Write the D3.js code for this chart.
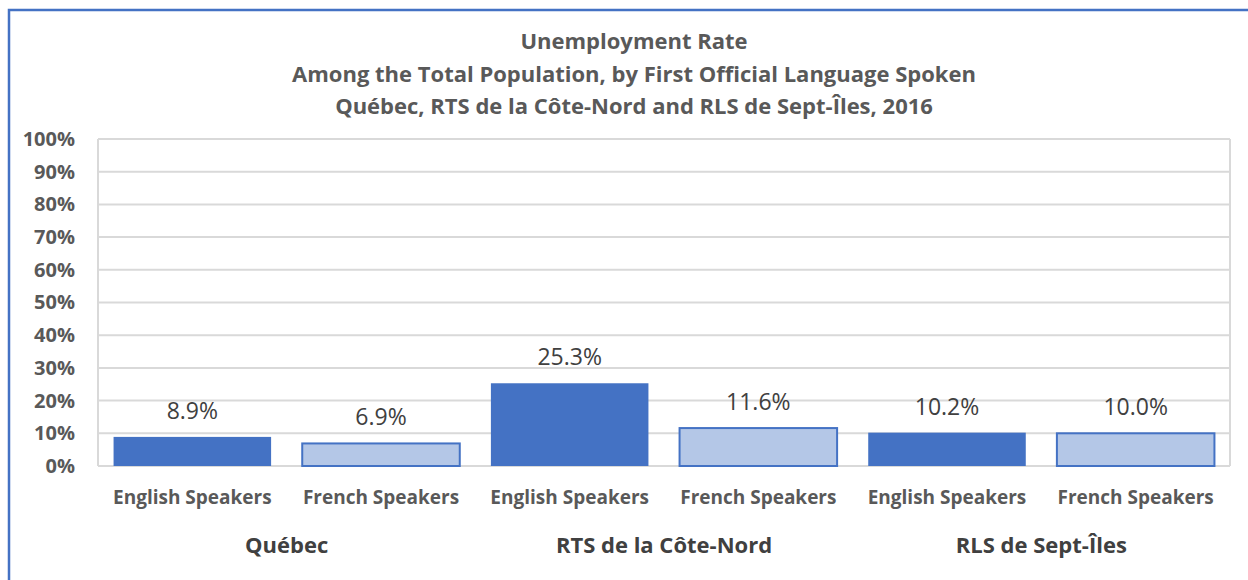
<!DOCTYPE html>
<html>
<head>
<meta charset="utf-8">
<script src="https://cdn.jsdelivr.net/npm/d3@7"></script>
<style>
  body { margin: 0; background: #fff; }
  svg { display: block; font-family: "Open Sans", sans-serif; }
</style>
</head>
<body>
<svg id="chart"></svg>
<script>
// Data
const regions = ["Québec", "RTS de la Côte-Nord", "RLS de Sept-Îles"];
const speakers = ["English Speakers", "French Speakers"];
const englishRates = [8.9, 25.3, 10.2];
const frenchRates = [6.9, 11.6, 10.0];
const yTicks = [0, 10, 20, 30, 40, 50, 60, 70, 80, 90, 100];
const titleLines = [
    "Unemployment Rate",
    "Among the Total Population, by First Official Language Spoken",
    "Québec, RTS de la Côte-Nord and RLS de Sept-Îles, 2016"
];

const width = 1248, height = 580;
const margin = { top: 139, right: 18, bottom: 114, left: 98 };

// flatten into bars
const bars = [];
regions.forEach((r, i) => {
    bars.push({ region: r, lang: speakers[0], value: englishRates[i], key: r + "|" + speakers[0] });
    bars.push({ region: r, lang: speakers[1], value: frenchRates[i], key: r + "|" + speakers[1] });
});

const svg = d3.select("#chart")
    .attr("width", width)
    .attr("height", height);

// outer chart border (only top/left visible in reference)
svg.append("rect")
    .attr("x", 9).attr("y", 10)
    .attr("width", 1260).attr("height", 600)
    .attr("fill", "none")
    .attr("stroke", "#4472C4")
    .attr("stroke-width", 2.5);

const x = d3.scaleBand()
    .domain(bars.map(d => d.key))
    .range([margin.left, width - margin.right])
    .paddingInner(0.165)
    .paddingOuter(0.0825);

const y = d3.scaleLinear()
    .domain([0, 100])
    .range([height - margin.bottom, margin.top]);

// gridlines
svg.append("g")
    .selectAll("line")
    .data(yTicks)
    .join("line")
    .attr("x1", margin.left)
    .attr("x2", width - margin.right)
    .attr("y1", d => y(d))
    .attr("y2", d => y(d))
    .attr("stroke", "#d9d9d9")
    .attr("stroke-width", 2);

// plot area sides
svg.append("g")
    .selectAll("line")
    .data([margin.left, width - margin.right])
    .join("line")
    .attr("x1", d => d).attr("x2", d => d)
    .attr("y1", y(100)).attr("y2", y(0))
    .attr("stroke", "#d9d9d9")
    .attr("stroke-width", 2);

// y axis labels
const yAxis = d3.axisLeft(y).tickValues(yTicks).tickFormat(d => d + "%").tickSize(0).tickPadding(23);
svg.append("g")
    .attr("transform", `translate(${margin.left},0)`)
    .call(yAxis)
    .call(g => g.select(".domain").remove())
    .selectAll("text")
    .attr("font-family", "Open Sans, sans-serif")
    .attr("font-size", 20)
    .attr("font-weight", 700)
    .attr("fill", "#595959");

// bars
svg.append("g")
    .selectAll("rect")
    .data(bars)
    .join("rect")
    .attr("x", d => x(d.key))
    .attr("width", x.bandwidth())
    .attr("y", d => y(d.value))
    .attr("height", d => y(0) - y(d.value))
    .attr("fill", d => d.lang === speakers[0] ? "#4472C4" : "#B4C7E7")
    .attr("stroke", d => d.lang === speakers[0] ? "none" : "#4472C4")
    .attr("stroke-width", 2);

// value labels
svg.append("g")
    .selectAll("text")
    .data(bars)
    .join("text")
    .attr("x", d => x(d.key) + x.bandwidth() / 2)
    .attr("y", d => y(d.value) - 18)
    .attr("text-anchor", "middle")
    .attr("font-size", 23)
    .attr("fill", "#404040")
    .text(d => d.value.toFixed(1) + "%");

// category labels
svg.append("g")
    .selectAll("text")
    .data(bars)
    .join("text")
    .attr("x", d => x(d.key) + x.bandwidth() / 2)
    .attr("y", 504)
    .attr("text-anchor", "middle")
    .attr("font-size", 19)
    .attr("font-weight", 700)
    .attr("fill", "#595959")
    .text(d => d.lang);

// region labels
svg.append("g")
    .selectAll("text")
    .data(regions)
    .join("text")
    .attr("x", r => (x(r + "|" + speakers[0]) + x(r + "|" + speakers[1]) + x.bandwidth()) / 2)
    .attr("y", 553)
    .attr("text-anchor", "middle")
    .attr("font-size", 22)
    .attr("font-weight", 700)
    .attr("fill", "#404040")
    .text(r => r);

// title
svg.append("g")
    .selectAll("text")
    .data(titleLines)
    .join("text")
    .attr("x", 634)
    .attr("y", (d, i) => 49 + i * 32.5)
    .attr("text-anchor", "middle")
    .attr("font-size", 22)
    .attr("font-weight", 700)
    .attr("fill", "#595959")
    .text(d => d);
</script>
</body>
</html>
